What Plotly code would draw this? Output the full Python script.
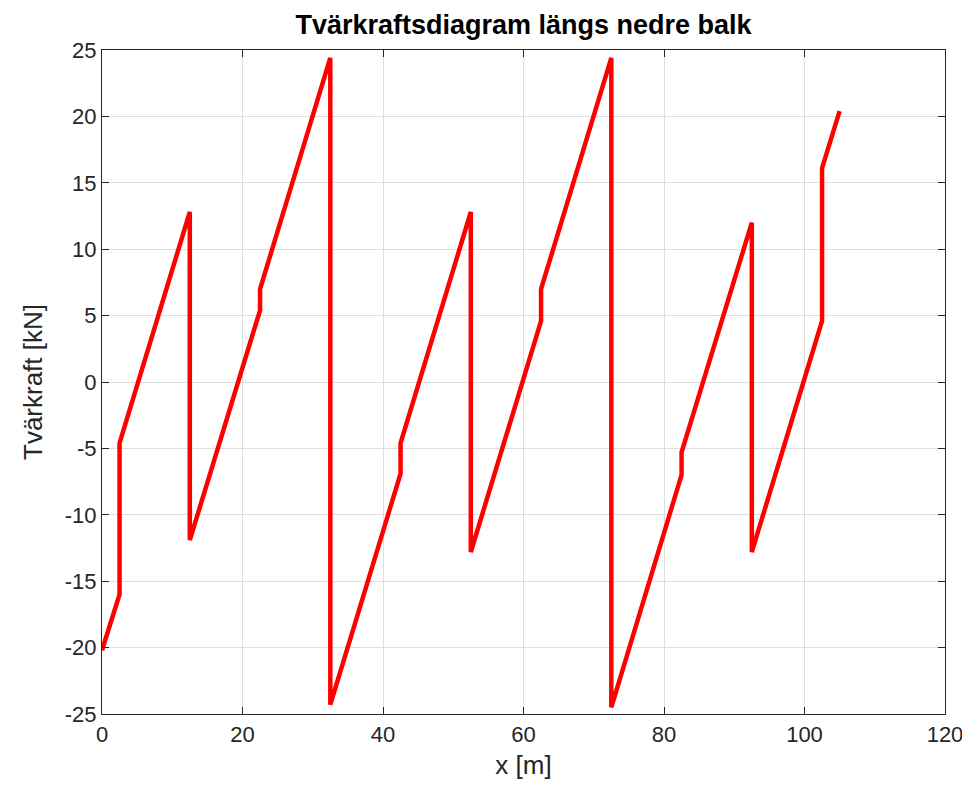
import plotly.graph_objects as go

# tvärkraft längs nedre balk
x_m = [0, 2.5, 2.5, 12.5, 12.5, 22.5, 22.5, 32.5, 32.5, 42.5, 42.5, 52.5,
       52.5, 62.5, 62.5, 72.5, 72.5, 82.5, 82.5, 92.5, 92.5, 102.5, 102.5, 105]
v_kn = [-20.2, -16.0, -4.6, 12.8, -11.9, 5.4, 7.0, 24.4, -24.3, -6.9, -4.6, 12.8,
        -12.8, 4.6, 7.0, 24.4, -24.5, -7.0, -5.3, 12.0, -12.8, 4.6, 16.1, 20.4]

x_ticks = [0, 20, 40, 60, 80, 100, 120]
y_ticks = [-25, -20, -15, -10, -5, 0, 5, 10, 15, 20, 25]

FONT = "Liberation Sans, Arial"

fig = go.Figure()
fig.add_trace(go.Scatter(x=x_m, y=v_kn, mode="lines",
                         line=dict(color="#ff0000", width=4.5)))

axis_style = dict(
    showline=True, linecolor="#262626", linewidth=1.2, mirror="allticks",
    ticks="inside", ticklen=7, tickcolor="#262626",
    showgrid=True, gridcolor="#dedede", gridwidth=1, zeroline=False,
    tickfont=dict(family=FONT, size=22, color="#262626"),
)

fig.update_xaxes(range=[0, 120], tickvals=x_ticks, ticktext=[str(t) for t in x_ticks],
                 title=dict(text="x [m]", font=dict(family=FONT, size=26, color="#262626"), standoff=10),
                 **axis_style)
# vanligt bindestreck som minustecken, som i originalet
fig.update_yaxes(range=[-25, 25], tickvals=y_ticks, ticktext=[str(t) for t in y_ticks],
                 title=dict(text="Tvärkraft [kN]", font=dict(family=FONT, size=26, color="#262626"), standoff=14),
                 **axis_style)

# sidan har 8 px marginal i body, därför förskjutna marginaler
fig.update_layout(
    width=970, height=799,
    margin=dict(l=94, r=33, t=42, b=93),
    paper_bgcolor="white", plot_bgcolor="white",
    showlegend=False,
    title=dict(text="<b>Tvärkraftsdiagram längs nedre balk</b>",
               font=dict(family=FONT, size=27, color="#000000"),
               x=0.5, xref="paper", xanchor="center", y=0.979, yanchor="middle"),
)

fig.write_html("out.html")
